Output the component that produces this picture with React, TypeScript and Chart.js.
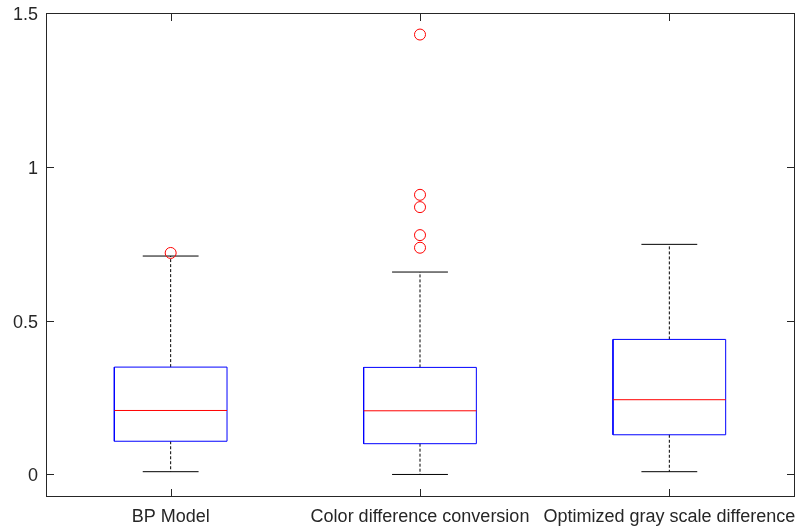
import React, { useEffect, useRef } from "react";
import { Chart, registerables } from "chart.js";

Chart.register(...registerables);

const categories = ["BP Model", "Color difference conversion", "Optimized gray scale difference"];
const lowerWhisker = [0.009, 0.0, 0.009];
const q1 = [0.108, 0.1, 0.129];
const medians = [0.208, 0.207, 0.243];
const q3 = [0.349, 0.348, 0.439];
const upperWhisker = [0.71, 0.658, 0.748];
const outliers: number[][] = [[0.72], [1.43, 0.909, 0.869, 0.778, 0.737], []];
const yTicks = [0, 0.5, 1, 1.5];
const yMin = -0.07;
const yMax = 1.5;

const BOX_HALF = 0.226;
const CAP_HALF = 0.112;
const AXIS_COLOR = "#262626";
const FONT = { family: "'Liberation Sans', Arial, Helvetica, sans-serif", size: 18 };

function seg(points: { x: number; y: number }[], color: string, dash: number[] = [], order = 0) {
  return {
    type: "scatter" as const,
    data: points,
    showLine: true,
    borderColor: color,
    borderWidth: 1,
    borderDash: dash,
    pointRadius: 0,
    pointHoverRadius: 0,
    fill: false,
    tension: 0,
    order,
  };
}

function buildDatasets() {
  const ds: any[] = [];
  categories.forEach((_, i) => {
    const x = i + 1;
    ds.push(seg([{ x, y: q3[i] }, { x, y: upperWhisker[i] }], "#000000", [3, 2], 3));
    ds.push(seg([{ x, y: q1[i] }, { x, y: lowerWhisker[i] }], "#000000", [3, 2], 3));
    ds.push(seg([{ x: x - CAP_HALF, y: upperWhisker[i] }, { x: x + CAP_HALF, y: upperWhisker[i] }], "#000000", [], 2));
    ds.push(seg([{ x: x - CAP_HALF, y: lowerWhisker[i] }, { x: x + CAP_HALF, y: lowerWhisker[i] }], "#000000", [], 2));
    ds.push(
      seg(
        [
          { x: x - BOX_HALF, y: q1[i] },
          { x: x + BOX_HALF, y: q1[i] },
          { x: x + BOX_HALF, y: q3[i] },
          { x: x - BOX_HALF, y: q3[i] },
          { x: x - BOX_HALF, y: q1[i] },
        ],
        "#0000FF",
        [],
        1
      )
    );
    ds.push(seg([{ x: x - BOX_HALF, y: medians[i] }, { x: x + BOX_HALF, y: medians[i] }], "#FF0000", [], 0));
  });
  const outPts: { x: number; y: number }[] = [];
  outliers.forEach((arr, i) => arr.forEach((v) => outPts.push({ x: i + 1, y: v })));
  ds.push({
    type: "scatter" as const,
    data: outPts,
    showLine: false,
    pointStyle: "circle",
    pointRadius: 5.5,
    pointHoverRadius: 5.5,
    borderColor: "#FF0000",
    backgroundColor: "rgba(0,0,0,0)",
    borderWidth: 1,
    order: -1,
  });
  return ds;
}

const framePlugin = {
  id: "frame",
  afterDraw(chart: any) {
    const { ctx, chartArea } = chart;
    const xs = chart.scales.x;
    const ys = chart.scales.y;
    const L = Math.round(chartArea.left) + 0.5;
    const R = Math.round(chartArea.right) + 0.5;
    const T = Math.round(chartArea.top) + 0.5;
    const B = Math.round(chartArea.bottom) + 0.5;
    const tl = 7.5;
    ctx.save();
    ctx.strokeStyle = AXIS_COLOR;
    ctx.lineWidth = 1;
    ctx.setLineDash([]);
    ctx.strokeRect(L, T, R - L, B - T);
    ctx.beginPath();
    categories.forEach((_, i) => {
      const px = Math.round(xs.getPixelForValue(i + 1)) + 0.5;
      ctx.moveTo(px, B);
      ctx.lineTo(px, B - tl);
      ctx.moveTo(px, T);
      ctx.lineTo(px, T + tl);
    });
    yTicks.forEach((v) => {
      const py = Math.round(ys.getPixelForValue(v)) + 0.5;
      ctx.moveTo(L, py);
      ctx.lineTo(L + tl, py);
      ctx.moveTo(R, py);
      ctx.lineTo(R - tl, py);
    });
    ctx.stroke();
    ctx.restore();
  },
};

export default function App() {
  const ref = useRef<HTMLCanvasElement | null>(null);
  useEffect(() => {
    document.body.style.margin = "0";
    const canvas = ref.current;
    if (!canvas) return;
    const chart = new Chart(canvas, {
      type: "scatter",
      data: { datasets: buildDatasets() },
      options: {
        responsive: false,
        animation: false,
        devicePixelRatio: 1,
        events: [],
        layout: { padding: { top: 13, right: 9, left: 0, bottom: 0 } },
        plugins: { legend: { display: false }, tooltip: { enabled: false } },
        scales: {
          x: {
            type: "linear",
            min: 0.5,
            max: 3.5,
            afterBuildTicks: (scale: any) => {
              scale.ticks = categories.map((_, i) => ({ value: i + 1 }));
            },
            afterFit: (scale: any) => {
              scale.height = 33;
              scale.paddingLeft = 0;
              scale.paddingRight = 0;
            },
            grid: { display: false, drawTicks: false },
            border: { display: false },
            ticks: {
              autoSkip: false,
              maxRotation: 0,
              padding: 10,
              color: AXIS_COLOR,
              font: FONT,
              callback: (v: any) => categories[Number(v) - 1] ?? "",
            },
          },
          y: {
            type: "linear",
            min: yMin,
            max: yMax,
            afterBuildTicks: (scale: any) => {
              scale.ticks = yTicks.map((v) => ({ value: v }));
            },
            afterFit: (scale: any) => {
              scale.width = 46;
              scale.paddingTop = 0;
              scale.paddingBottom = 0;
            },
            grid: { display: false, drawTicks: false },
            border: { display: false },
            ticks: {
              padding: 8,
              labelOffset: 2,
              color: AXIS_COLOR,
              font: FONT,
              callback: (v: any) => String(v),
            },
          },
        },
      },
      plugins: [framePlugin],
    } as any);
    return () => chart.destroy();
  }, []);
  return (
    <div style={{ width: 803, height: 529, background: "#fff" }}>
      <canvas ref={ref} width={803} height={529} style={{ display: "block" }} />
    </div>
  );
}
